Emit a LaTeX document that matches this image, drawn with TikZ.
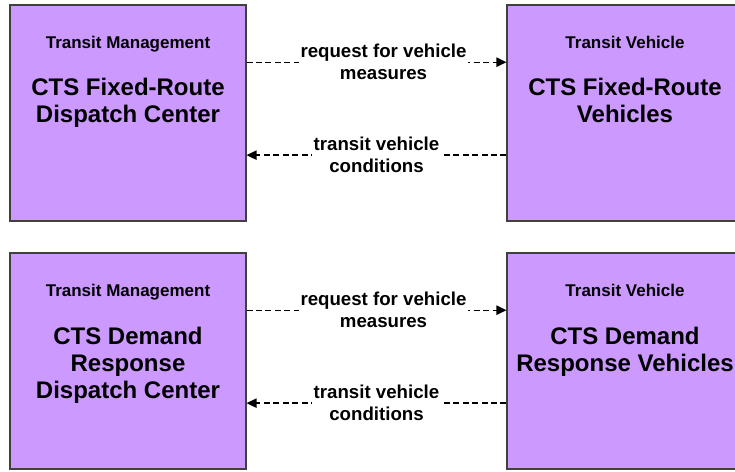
\documentclass[tikz,border=0pt]{standalone}
\usepackage{fontspec}
\setmainfont{Liberation Sans}
\usetikzlibrary{arrows.meta}
\definecolor{boxfill}{HTML}{CC99FF}
\definecolor{boxline}{HTML}{404040}
\definecolor{ink}{HTML}{000000}
\tikzset{
  sysbox/.style={draw=boxline,line width=0.8pt,fill=boxfill,minimum width=177pt,minimum height=162pt,inner sep=0pt},
  boxhdr/.style={font=\fontsize{12.75}{15}\selectfont\bfseries,anchor=north,inner sep=0pt},
  boxtitle/.style={font=\fontsize{18}{20.25}\selectfont\bfseries,align=center,anchor=north,inner sep=0pt},
  flowline/.style={draw=ink,line width=1pt,dash pattern=on 4.5pt off 2.6pt,-{Triangle[length=7.5pt,width=7pt]}},
  flowlabel/.style={font=\fontsize{14}{16.5}\selectfont\bfseries,align=center,fill=white,inner sep=1pt}
}

\begin{document}
\begin{tikzpicture}[x=0.75pt,y=-0.75pt]
        \useasboundingbox[fill=white] (0,0) rectangle (735,471);
        \node[sysbox] (fixdisp) at (128,113) {};
        \node[sysbox] (fixveh) at (625,113) {};
        \node[sysbox] (drdisp) at (128,361) {};
        \node[sysbox] (drveh) at (625,361) {};
        \node[boxhdr] (fixdisphdr) at ([yshift=-23.25pt]fixdisp.north) {Transit Management};
        \node[boxtitle] (fixdisptitle) at ([yshift=-54.75pt]fixdisp.north) {CTS Fixed-Route\\Dispatch Center};
        \node[boxhdr] (fixvehhdr) at ([yshift=-23.25pt]fixveh.north) {Transit Vehicle};
        \node[boxtitle] (fixvehtitle) at ([yshift=-54.75pt]fixveh.north) {CTS Fixed-Route\\Vehicles};
        \node[boxhdr] (drdisphdr) at ([yshift=-23.25pt]drdisp.north) {Transit Management};
        \node[boxtitle] (drdisptitle) at ([yshift=-55.5pt]drdisp.north) {CTS Demand\\Response\\Dispatch Center};
        \node[boxhdr] (drvehhdr) at ([yshift=-23.25pt]drveh.north) {Transit Vehicle};
        \node[boxtitle] (drvehtitle) at ([yshift=-55.5pt]drveh.north) {CTS Demand\\Response Vehicles};
        \draw[flowline] ([yshift=-43.3pt]fixdisp.north east) -- node[flowlabel,pos=0.527] (fixreq) {request for vehicle\\measures} ([yshift=-43.3pt]fixveh.north west);
        \draw[flowline] ([yshift=-113pt]fixveh.north west) -- node[flowlabel,pos=0.5] (fixcond) {transit vehicle\\conditions} ([yshift=-113pt]fixdisp.north east);
        \draw[flowline] ([yshift=-43.3pt]drdisp.north east) -- node[flowlabel,pos=0.527] (drreq) {request for vehicle\\measures} ([yshift=-43.3pt]drveh.north west);
        \draw[flowline] ([yshift=-113pt]drveh.north west) -- node[flowlabel,pos=0.5] (drcond) {transit vehicle\\conditions} ([yshift=-113pt]drdisp.north east);
      \end{tikzpicture}
\end{document}
